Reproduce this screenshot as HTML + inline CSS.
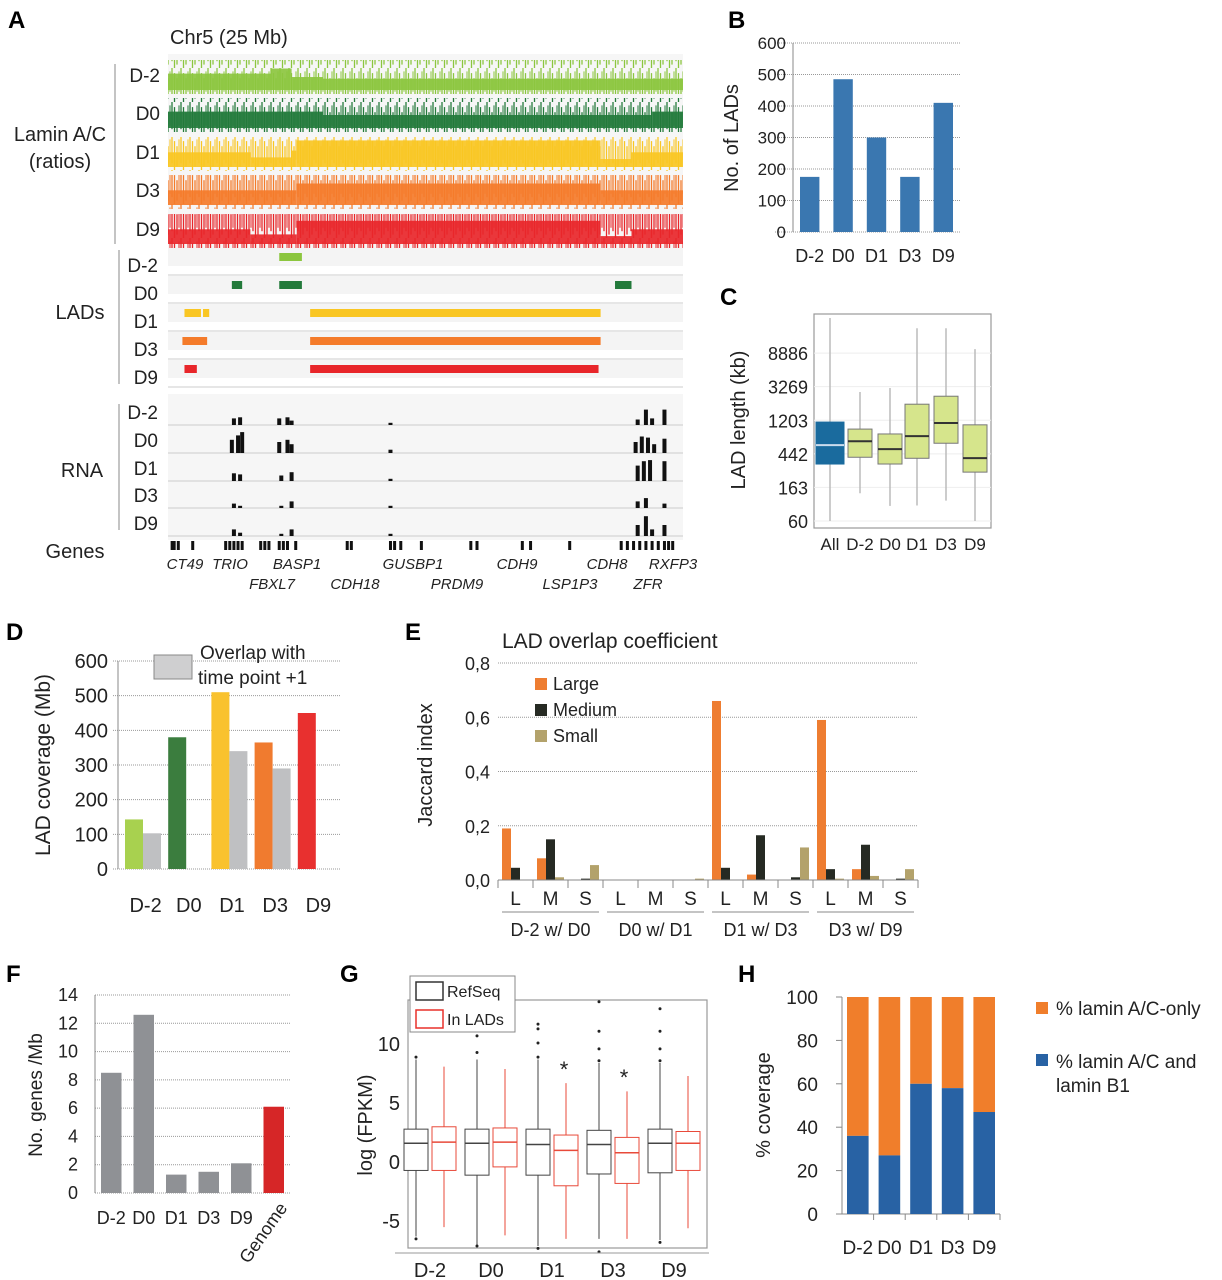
<!DOCTYPE html>
<html><head><meta charset="utf-8"><style>
html,body{margin:0;padding:0;background:#fff}
svg{display:block;font-family:"Liberation Sans",Arial,sans-serif}
</style></head><body>
<svg id="fig" width="1222" height="1280" viewBox="0 0 1222 1280" xmlns="http://www.w3.org/2000/svg">
<g id="A"></g>
<g id="B"></g>
<g id="C"></g>
<g id="D"></g>
<g id="E"></g>
<g id="F"></g>
<g id="G"></g>
<g id="H"></g>
</svg>
<script>
// ---------- data ----------
const trackNames = ["D-2","D0","D1","D3","D9"];
const trackColors = ["#8cc63f","#237a3b","#f9c623","#f47b2a","#e8262a"];
// lamin tracks: segments [startFrac, endFrac, level 0..1 (1 = high)]
const laminD2 = [[0,0.2,0.6],[0.2,0.24,0.75],[0.24,0.3,0.5],[0.3,1,0.45]];
const laminD0 = [[0,0.3,0.6],[0.3,0.94,0.5],[0.94,1,0.6]];
const laminD1 = [[0,0.16,0.55],[0.16,0.24,0.4],[0.24,0.25,0.6],[0.25,0.84,0.9],[0.84,0.9,0.35],[0.9,1,0.55]];
const laminD3 = [[0,0.25,0.55],[0.25,0.84,0.75],[0.84,1,0.55]];
const laminD9 = [[0,0.16,0.55],[0.16,0.25,0.4],[0.25,0.84,0.8],[0.84,0.9,0.35],[0.9,1,0.55]];
const laminTracks = [laminD2,laminD0,laminD1,laminD3,laminD9];
// LAD calls in Mb (0-25)
const ladD2 = [[5.4,6.5]];
const ladD0 = [[3.1,3.6],[5.4,6.5],[21.7,22.5]];
const ladD1 = [[0.8,1.6],[1.7,2.0],[6.9,21.0]];
const ladD3 = [[0.7,1.9],[6.9,21.0]];
const ladD9 = [[0.8,1.4],[6.9,20.9]];
const ladTracks = [ladD2,ladD0,ladD1,ladD3,ladD9];
// RNA peaks: [position Mb, height frac] per sample
const rnaD2 = [[3.2,0.3],[3.5,0.35],[5.4,0.3],[5.8,0.35],[6.0,0.2],[10.8,0.1],[22.8,0.25],[23.2,0.7],[23.5,0.3],[24.1,0.7]];
const rnaD0 = [[3.1,0.6],[3.4,0.8],[3.6,0.95],[5.4,0.5],[5.8,0.6],[6.0,0.4],[10.8,0.15],[22.7,0.5],[23.0,0.75],[23.3,0.7],[23.6,0.4],[24.1,0.65]];
const rnaD1 = [[3.2,0.35],[3.5,0.3],[5.5,0.25],[6.0,0.4],[10.8,0.1],[22.8,0.7],[23.1,0.9],[23.4,0.95],[24.1,0.9]];
const rnaD3 = [[3.2,0.2],[3.5,0.1],[5.5,0.1],[6.0,0.3],[10.8,0.1],[22.8,0.3],[23.2,0.45],[24.1,0.2]];
const rnaD9 = [[3.2,0.3],[3.5,0.15],[5.5,0.1],[6.0,0.3],[10.8,0.1],[22.8,0.5],[23.2,0.9],[23.5,0.3],[24.1,0.5]];
const rnaTracks = [rnaD2,rnaD0,rnaD1,rnaD3,rnaD9];
const genePos = [0.2,0.3,0.5,1.2,2.8,3.0,3.2,3.4,3.6,4.5,4.7,4.9,5.4,5.6,5.8,6.2,8.7,8.9,10.8,11.0,11.3,12.3,14.7,15.0,17.2,17.6,19.5,22.0,22.3,22.6,22.9,23.2,23.5,23.8,24.1,24.3,24.5];
const geneLabels1 = [["CT49",185],["TRIO",230],["BASP1",297],["GUSBP1",413],["CDH9",517],["CDH8",607],["RXFP3",673]];
const geneLabels2 = [["FBXL7",272],["CDH18",355],["PRDM9",457],["LSP1P3",570],["ZFR",648]];

const bCats = ["D-2","D0","D1","D3","D9"];
const bVals = [175,485,300,175,410];
const bTicks = [0,100,200,300,400,500,600];

const cCats = ["All","D-2","D0","D1","D3","D9"];
const cLow = [60,137,94,95,110,60];
const cQ1 = [327,400,327,388,607,257];
const cMed = [573,645,510,750,1110,390];
const cQ3 = [1140,925,800,1940,2460,1050];
const cHigh = [35000,2790,3140,18600,18600,10000];
const cTicks = [60,163,442,1203,3269,8886];

const dCats = ["D-2","D0","D1","D3","D9"];
const dCoverage = [143,380,510,365,450];
const dOverlap = [103,null,340,290,null];
const dTicks = [0,100,200,300,400,500,600];

const eGroups = ["D-2 w/ D0","D0 w/ D1","D1 w/ D3","D3 w/ D9"];
const eSub = ["L","M","S"];
const eLarge = [[0.19,0.08,0],[0,0,0],[0.66,0.02,0],[0.59,0.04,0]];
const eMedium = [[0.045,0.15,0.005],[0,0,0],[0.045,0.165,0.01],[0.04,0.13,0.005]];
const eSmall = [[0,0.01,0.055],[0,0,0.005],[0,0,0.12],[0.005,0.015,0.04]];
const eTicks = ["0,0","0,2","0,4","0,6","0,8"];

const fCats = ["D-2","D0","D1","D3","D9","Genome"];
const fVals = [8.5,12.6,1.3,1.5,2.1,6.1];
const fTicks = [0,2,4,6,8,10,12,14];

const gCats = ["D-2","D0","D1","D3","D9"];
// [low, q1, med, q3, high]
const gRef = [[-6.4,-0.8,1.5,2.7,8.6],[-7.2,-1.2,1.5,2.7,8.6],[-7.2,-1.2,1.4,2.7,8.6],[-6.6,-1.1,1.4,2.6,8.3],[-6.7,-1.0,1.5,2.7,8.3]];
const gLad = [[-5.6,-0.8,1.6,2.9,8.0],[-6.3,-0.5,1.6,2.8,7.8],[-6.6,-2.1,0.9,2.2,6.6],[-6.6,-1.9,0.7,2.0,5.9],[-5.7,-0.8,1.5,2.5,7.2]];
const gRefOut = [[8.8,-6.6],[9.2,10.6,-7.2],[8.8,10,11.6,11.2,-7.4],[8.5,9.5,11,13.5,-7.7],[8.5,9.5,11,12.9,-6.9]];
const gTicks = [-5,0,5,10];

const hCats = ["D-2","D0","D1","D3","D9"];
const hBoth = [36,27,60,58,47];
const hTicks = [0,20,40,60,80,100];

// ---------- helpers ----------
const NS="http://www.w3.org/2000/svg";
function mk(parent,tag,attrs,text){const e=document.createElementNS(NS,tag);for(const k in attrs)e.setAttribute(k,attrs[k]);if(text!==undefined)e.textContent=text;parent.appendChild(e);return e;}
function lin(d0,d1,r0,r1){return v=>r0+(v-d0)*(r1-r0)/(d1-d0);}
function txt(p,x,y,s,size,anchor,extra){const t=mk(p,'text',Object.assign({x:x,y:y,'font-size':size,'text-anchor':anchor||'start',fill:'#222'},extra||{}),s);return t;}

// ---------- Panel A ----------
(function(){
 const g=document.getElementById('A');
 const svg=document.getElementById('fig');
 const defs=mk(svg,'defs',{});
 const h=34;
 trackColors.forEach((c,i)=>{
  const p=mk(defs,'pattern',{id:'noise'+i,width:9,height:h,patternUnits:'userSpaceOnUse'});
  mk(p,'line',{x1:1,y1:0,x2:1,y2:h*0.8,stroke:c,'stroke-width':1.3});
  mk(p,'line',{x1:3.5,y1:h*0.15,x2:3.5,y2:h,stroke:c,'stroke-width':1.3});
  mk(p,'line',{x1:6,y1:h*0.3,x2:6,y2:h*0.9,stroke:c,'stroke-width':1.3});
  mk(p,'line',{x1:8,y1:h*0.1,x2:8,y2:h*0.7,stroke:c,'stroke-width':1});
 });
 let t=txt(g,8,28,"A",24,'start',{'font-weight':'bold',fill:'#000'});
 t=txt(g,170,44,"Chr5 (25 Mb)",20);
 const X=lin(0,25,168,683);
 mk(g,'rect',{x:168,y:54,width:515,height:196,fill:'#f6f6f6'});
 const tops=[60,98,137,175,214];
 laminTracks.forEach((segs,i)=>{
  const grp=mk(g,'g',{});
  
  
  mk(grp,'rect',{x:168,y:tops[i],width:515,height:h,fill:'url(#noise'+i+')'});
  segs.forEach(s=>{
   const x0=168+s[0]*515,x1=168+s[1]*515;
   const lvl=tops[i]+h*(1-s[2]);
   const r=mk(grp,'rect',{x:x0,y:lvl,width:x1-x0,height:Math.max(6,(tops[i]+h-4)-lvl),fill:trackColors[i],'fill-opacity':0.92});
   
   
  });
  txt(g,160,tops[i]+h*0.65,trackNames[i],19,'end');
 });
 mk(g,'line',{x1:115,y1:64,x2:115,y2:244,stroke:'#888'});
 t=txt(g,60,141,"Lamin A/C",20,'middle');
 txt(g,60,168,"(ratios)",20,'middle');
 // LADs
 const ladY=[248,276,304,332,360];
 ladTracks.forEach((segs,i)=>{
  mk(g,'rect',{x:168,y:ladY[i],width:515,height:18,fill:'#f4f4f4'});
  mk(g,'line',{x1:168,y1:ladY[i]+27,x2:683,y2:ladY[i]+27,stroke:'#ddd','stroke-width':1.5});
  txt(g,158,ladY[i]+24,trackNames[i],19,'end');
  segs.forEach(s=>{
   const r=mk(g,'rect',{x:X(s[0]),y:ladY[i]+5,width:X(s[1])-X(s[0]),height:8,fill:trackColors[i]});
   
   
  });
 });
 mk(g,'line',{x1:119,y1:250,x2:119,y2:384,stroke:'#888'});
 txt(g,80,319,"LADs",20,'middle');
 // RNA
 mk(g,'rect',{x:168,y:394,width:515,height:146,fill:'#f6f6f6'});
 const rnaY=[425,453,481,508,536];
 rnaTracks.forEach((pk,i)=>{
  mk(g,'line',{x1:168,y1:rnaY[i],x2:683,y2:rnaY[i],stroke:'#ccc'});
  txt(g,158,rnaY[i]-6,trackNames[i],19,'end');
  pk.forEach(p=>{
   const r=mk(g,'rect',{x:X(p[0])-2,y:rnaY[i]-p[1]*22,width:4,height:p[1]*22,fill:'#111'});
   
   
  });
 });
 mk(g,'line',{x1:119,y1:404,x2:119,y2:530,stroke:'#888'});
 txt(g,82,477,"RNA",20,'middle');
 txt(g,75,558,"Genes",20,'middle');
 genePos.forEach(p=>{const r=mk(g,'rect',{x:X(p)-1.5,y:541,width:3,height:9,fill:'#111'});});
 geneLabels1.forEach(l=>txt(g,l[1],569,l[0],15,'middle',{'font-style':'italic'}));
 geneLabels2.forEach(l=>txt(g,l[1],589,l[0],15,'middle',{'font-style':'italic'}));
})();

// ---------- Panel B ----------
(function(){
 const g=document.getElementById('B');
 txt(g,728,28,"B",24,'start',{'font-weight':'bold',fill:'#000'});
 const Y=lin(0,600,232,43);
 bTicks.forEach(v=>{mk(g,'line',{x1:775,y1:Y(v),x2:960,y2:Y(v),stroke:'#999','stroke-dasharray':'1,1'});txt(g,786,Y(v)+6,String(v),17,'end');});
 mk(g,'line',{x1:793,y1:Y(0),x2:793,y2:Y(600),stroke:'#888'});
 const bw=(960-793)/bCats.length;
 bCats.forEach((c,i)=>{
  const r=mk(g,'rect',{x:793+bw*i+7,y:Y(bVals[i]),width:bw-14,height:Y(0)-Y(bVals[i]),fill:'#3a77b0'});
  
  
  txt(g,793+bw*(i+0.5),262,c,18,'middle');
 });
 txt(g,738,138,"No. of LADs",20,'middle',{transform:'rotate(-90 738 138)'});
})();

// ---------- Panel C ----------
(function(){
 const g=document.getElementById('C');
 txt(g,720,305,"C",24,'start',{'font-weight':'bold',fill:'#000'});
 const Y=v=>521-(Math.log(v)-Math.log(60))*33.6;
 mk(g,'rect',{x:814,y:314,width:177,height:214,fill:'#fff',stroke:'#999','stroke-width':1.2});
 cTicks.forEach(v=>{mk(g,'line',{x1:814,y1:Y(v),x2:991,y2:Y(v),stroke:'#eee'});txt(g,808,Y(v)+7,String(v),18,'end');});
 const cx=[830,860,890,917,946,975];
 cCats.forEach((c,i)=>{
  const x=cx[i],w=i==0?28:24;
  const hi=Math.max(Y(cHigh[i]),318);
  mk(g,'line',{x1:x,y1:Y(cLow[i]),x2:x,y2:hi,stroke:'#bbb','stroke-width':1.5});
  const r=mk(g,'rect',{x:x-w/2,y:Y(cQ3[i]),width:w,height:Y(cQ1[i])-Y(cQ3[i]),fill:i==0?'#1a6b9e':'#d6e58c',stroke:i==0?'#1a6b9e':'#777'});
  
  
  mk(g,'line',{x1:x-w/2,y1:Y(cMed[i]),x2:x+w/2,y2:Y(cMed[i]),stroke:i==0?'#cde':'#333','stroke-width':2});
  txt(g,x,550,c,17,'middle');
 });
 txt(g,745,420,"LAD length (kb)",20,'middle',{transform:'rotate(-90 745 420)'});
})();

// ---------- Panel D ----------
(function(){
 const g=document.getElementById('D');
 txt(g,6,640,"D",24,'start',{'font-weight':'bold',fill:'#000'});
 const Y=lin(0,600,869,661);
 dTicks.forEach(v=>{mk(g,'line',{x1:113,y1:Y(v),x2:340,y2:Y(v),stroke:'#999','stroke-dasharray':'1,1'});txt(g,108,Y(v)+7,String(v),20,'end');});
 mk(g,'line',{x1:118,y1:869,x2:118,y2:661,stroke:'#888'});
 const cols=["#a8d14f","#3b7d3e","#f9c22e","#f07b2f","#e8302f"];
 const gw=(340-124)/dCats.length;
 dCats.forEach((c,i)=>{
  const x0=124+gw*i;
  const r=mk(g,'rect',{x:x0+1,y:Y(dCoverage[i]),width:18,height:869-Y(dCoverage[i]),fill:cols[i]});
  
  
  if(dOverlap[i]!==null){
   const o=mk(g,'rect',{x:x0+19,y:Y(dOverlap[i]),width:18,height:869-Y(dOverlap[i]),fill:'#bfc0c2'});
   
   
  }
  txt(g,x0+gw/2,912,c,20,'middle');
 });
 mk(g,'rect',{x:154,y:655,width:38,height:24,fill:'#cfcfd0',stroke:'#888'});
 txt(g,200,659,"Overlap with",19,'start');
 txt(g,198,684,"time point +1",19,'start');
 txt(g,50,765,"LAD coverage (Mb)",21,'middle',{transform:'rotate(-90 50 765)'});
})();

// ---------- Panel E ----------
(function(){
 const g=document.getElementById('E');
 txt(g,405,640,"E",24,'start',{'font-weight':'bold',fill:'#000'});
 txt(g,502,648,"LAD overlap coefficient",21,'start');
 const Y=lin(0,0.8,880,663);
 eTicks.forEach((s,i)=>{const v=i*0.2;mk(g,'line',{x1:498,y1:Y(v),x2:918,y2:Y(v),stroke:'#999','stroke-dasharray':'1,1'});txt(g,490,Y(v)+7,s,18,'end');});
 const sw=(918-498)/12;
 eGroups.forEach((gr,gi)=>{
  eSub.forEach((s,si)=>{
   const x0=498+sw*(gi*3+si)+4;
   [[eLarge,'#ee7d31','large'],[eMedium,'#262a23','medium'],[eSmall,'#b3a26b','small']].forEach((ser,k)=>{
    const v=ser[0][gi][si];
    const r=mk(g,'rect',{x:x0+k*9,y:Y(v),width:9,height:Y(0)-Y(v),fill:ser[1]});
    
    
   });
   txt(g,498+sw*(gi*3+si+0.5),905,s,19,'middle');
  });
  mk(g,'line',{x1:498+sw*gi*3+4,y1:912,x2:498+sw*(gi*3+3)-4,y2:912,stroke:'#888'});
  txt(g,498+sw*(gi*3+1.5),936,gr,18,'middle');
 });
 for(let i=0;i<=12;i++)mk(g,'line',{x1:498+sw*i,y1:880,x2:498+sw*i,y2:888,stroke:'#888'});
 mk(g,'line',{x1:498,y1:880,x2:918,y2:880,stroke:'#888'});
 [["Large",'#ee7d31',690],["Medium",'#262a23',716],["Small",'#b3a26b',742]].forEach(l=>{
  mk(g,'rect',{x:535,y:l[2]-12,width:12,height:12,fill:l[1]});
  txt(g,553,l[2],l[0],18,'start');
 });
 txt(g,432,765,"Jaccard index",20,'middle',{transform:'rotate(-90 432 765)'});
})();

// ---------- Panel F ----------
(function(){
 const g=document.getElementById('F');
 txt(g,6,982,"F",24,'start',{'font-weight':'bold',fill:'#000'});
 const Y=lin(0,14,1193,995);
 fTicks.forEach(v=>{mk(g,'line',{x1:95,y1:Y(v),x2:290,y2:Y(v),stroke:'#999','stroke-dasharray':'1,1'});txt(g,78,Y(v)+6,String(v),18,'end');});
 mk(g,'line',{x1:95,y1:1193,x2:95,y2:995,stroke:'#888'});
 const bw=(290-95)/fCats.length;
 fCats.forEach((c,i)=>{
  const r=mk(g,'rect',{x:95+bw*i+6,y:Y(fVals[i]),width:bw-12,height:1193-Y(fVals[i]),fill:i==5?'#d62627':'#8f9195'});
  
  
  if(i<5) txt(g,95+bw*(i+0.5),1224,c,18,'middle');
 });
 txt(g,288,1208,"Genome",18,'end',{transform:'rotate(-55 288 1208)'});
 txt(g,42,1095,"No. genes /Mb",19,'middle',{transform:'rotate(-90 42 1095)'});
})();

// ---------- Panel G ----------
(function(){
 const g=document.getElementById('G');
 txt(g,340,982,"G",24,'start',{'font-weight':'bold',fill:'#000'});
 const Y=lin(0,10,1161,1043);
 mk(g,'rect',{x:408,y:1000,width:299,height:248,fill:'#fff',stroke:'#999','stroke-width':1.2});
 gTicks.forEach(v=>{txt(g,400,Y(v)+8,String(v),20,'end');});
 const gx=[430,491,552,613,674];
 gCats.forEach((c,i)=>{
  [[gRef[i],'#444',-14],[gLad[i],'#e84a3a',14]].forEach(b=>{
   const s=b[0],x=gx[i]+b[2];
   mk(g,'line',{x1:x,y1:Y(s[0]),x2:x,y2:Y(s[4]),stroke:b[1],'stroke-width':1});
   const r=mk(g,'rect',{x:x-12,y:Y(s[3]),width:24,height:Y(s[1])-Y(s[3]),fill:'#fff',stroke:b[1]});
   
   
   mk(g,'line',{x1:x-12,y1:Y(s[2]),x2:x+12,y2:Y(s[2]),stroke:b[1],'stroke-width':1.5});
  });
  gRefOut[i].forEach(v=>mk(g,'circle',{cx:gx[i]-14,cy:Y(v),r:1.5,fill:'#222'}));
  mk(g,'line',{x1:gx[i]-35,y1:1253,x2:gx[i]+35,y2:1253,stroke:'#999'});
  txt(g,gx[i],1277,c,20,'middle');
 });
 txt(g,564,1077,"*",22,'middle');txt(g,624,1085,"*",22,'middle');
 mk(g,'rect',{x:410,y:976,width:105,height:56,fill:'#fff',stroke:'#888'});
 mk(g,'rect',{x:416,y:982,width:27,height:18,fill:'none',stroke:'#333','stroke-width':1.5});
 mk(g,'rect',{x:416,y:1010,width:27,height:18,fill:'none',stroke:'#e8302a','stroke-width':1.5});
 txt(g,447,997,"RefSeq",16,'start');txt(g,447,1025,"In LADs",16,'start');
 txt(g,372,1125,"log (FPKM)",20,'middle',{transform:'rotate(-90 372 1125)'});
})();

// ---------- Panel H ----------
(function(){
 const g=document.getElementById('H');
 txt(g,738,982,"H",24,'start',{'font-weight':'bold',fill:'#000'});
 const Y=lin(0,100,1214,997);
 hTicks.forEach(v=>{txt(g,818,Y(v)+7,String(v),19,'end');mk(g,'line',{x1:836,y1:Y(v),x2:842,y2:Y(v),stroke:'#888'});});
 mk(g,'line',{x1:842,y1:1214,x2:842,y2:997,stroke:'#888'});
 mk(g,'line',{x1:842,y1:1214,x2:1000,y2:1214,stroke:'#888'});
 const bw=(1000-842)/hCats.length;
 hCats.forEach((c,i)=>{
  const x=842+bw*i+5;
  const o=mk(g,'rect',{x:x,y:Y(100),width:bw-10,height:Y(hBoth[i])-Y(100),fill:'#f07e2b'});
  
  
  const b=mk(g,'rect',{x:x,y:Y(hBoth[i]),width:bw-10,height:1214-Y(hBoth[i]),fill:'#2862a4'});
  
  
  mk(g,'line',{x1:842+bw*(i+1),y1:1214,x2:842+bw*(i+1),y2:1220,stroke:'#888'});
  txt(g,842+bw*(i+0.5),1254,c,19,'middle');
 });
 mk(g,'rect',{x:1036,y:1002,width:12,height:12,fill:'#f07e2b'});
 txt(g,1056,1015,"% lamin A/C-only",19,'start');
 mk(g,'rect',{x:1036,y:1054,width:12,height:12,fill:'#2862a4'});
 txt(g,1056,1068,"% lamin A/C and",19,'start');
 txt(g,1056,1092,"lamin B1",19,'start');
 txt(g,770,1105,"% coverage",20,'middle',{transform:'rotate(-90 770 1105)'});
})();
</script>
</body></html>
